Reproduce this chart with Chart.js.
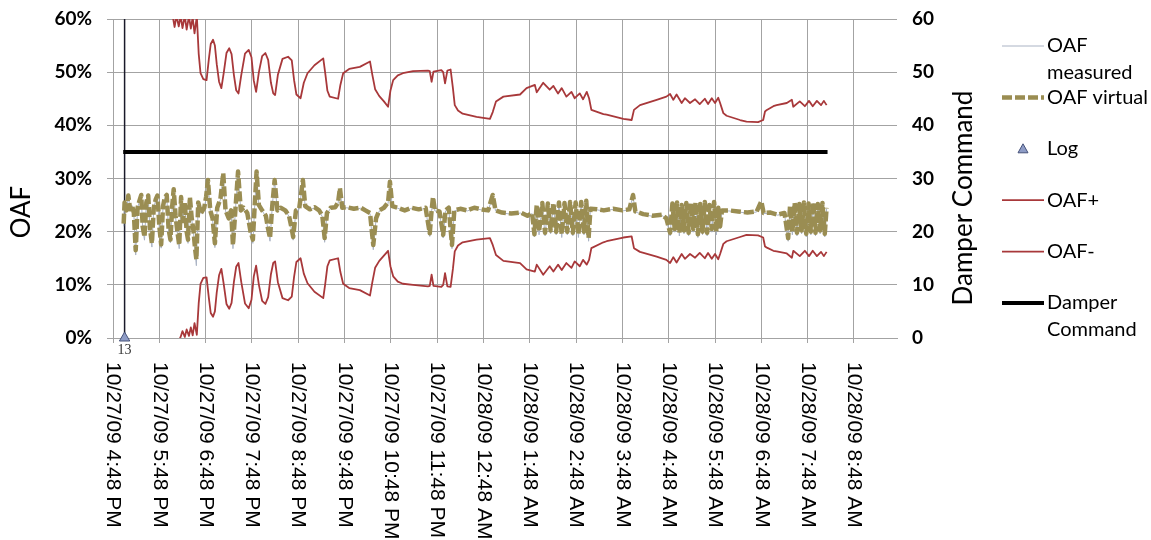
<!DOCTYPE html>
<html>
<head>
<meta charset="utf-8">
<script src="https://cdn.jsdelivr.net/npm/chart.js@4.4.0/dist/chart.umd.min.js"></script>
<style>
    html, body { margin: 0; background: #fff; }
    #wrap { width: 1151px; height: 540px; }
</style>
</head>
<body>
<div id="wrap"><canvas id="oafChart" width="1151" height="540"></canvas></div>
<script>
// hours after 10/27/09 4:48 PM
var tickHours = [0, 1, 2, 3, 4, 5, 6, 7, 8, 9, 10, 11, 12, 13, 14, 15, 16];
var tickLabels = ["10/27/09 4:48 PM", "10/27/09 5:48 PM", "10/27/09 6:48 PM", "10/27/09 7:48 PM",
    "10/27/09 8:48 PM", "10/27/09 9:48 PM", "10/27/09 10:48 PM", "10/27/09 11:48 PM",
    "10/28/09 12:48 AM", "10/28/09 1:48 AM", "10/28/09 2:48 AM", "10/28/09 3:48 AM",
    "10/28/09 4:48 AM", "10/28/09 5:48 AM", "10/28/09 6:48 AM", "10/28/09 7:48 AM", "10/28/09 8:48 AM"];
var legendNames = [["OAF", "measured"], ["OAF virtual"], ["Log"], ["OAF+"], ["OAF-"], ["Damper", "Command"]];

// OAF+ / OAF- envelope, sampled at the same times
var envHours = [1.29, 1.33, 1.37, 1.42, 1.46, 1.50, 1.55, 1.59, 1.64, 1.68, 1.72, 1.76, 1.81, 1.85, 1.89, 1.95,
    2.02, 2.07, 2.11, 2.16, 2.20, 2.24, 2.29, 2.34, 2.39, 2.45, 2.51, 2.56, 2.61, 2.66, 2.71, 2.77, 2.85, 2.93,
    2.99, 3.04, 3.09, 3.15, 3.22, 3.29, 3.35, 3.41, 3.46, 3.50, 3.56, 3.66, 3.78, 3.86, 3.91, 3.96, 4.05, 4.12,
    4.20, 4.35, 4.54, 4.58, 4.63, 4.68, 4.86, 4.91, 4.97, 5.10, 5.33, 5.55, 5.60, 5.66, 5.75, 5.85, 5.94, 5.99,
    6.05, 6.15, 6.26, 6.48, 6.80, 6.84, 6.88, 6.92, 7.09, 7.13, 7.17, 7.22, 7.29, 7.34, 7.38, 7.45, 7.55, 7.85,
    8.14, 8.20, 8.27, 8.43, 8.79, 8.93, 9.11, 9.15, 9.29, 9.43, 9.51, 9.61, 9.69, 9.79, 9.90, 9.97, 10.08,
    10.15, 10.23, 10.28, 10.33, 10.59, 10.66, 11.02, 11.20, 11.25, 11.38, 11.74, 11.95, 12.03, 12.10, 12.17,
    12.28, 12.35, 12.46, 12.57, 12.67, 12.78, 12.85, 12.93, 13.00, 13.07, 13.11, 13.18, 13.25, 13.54, 13.68,
    13.93, 14.04, 14.08, 14.12, 14.26, 14.33, 14.55, 14.66, 14.69, 14.83, 14.94, 15.03, 15.11, 15.20, 15.29,
    15.35, 15.41];
var plusValues = [60.5, 58.5, 60.6, 58.6, 60.6, 58.3, 60.6, 58.0, 60.5, 58.2, 60.3, 57.3, 60.5, 53.5, 49.8, 48.7,
    48.5, 52.5, 55.3, 56.1, 55.0, 51.5, 48.2, 47.0, 49.8, 53.6, 54.5, 53.4, 49.5, 46.6, 46.0, 49.5, 53.5, 54.2,
    52.8, 48.4, 46.3, 50.0, 53.0, 53.6, 52.3, 48.0, 46.0, 45.7, 49.5, 52.5, 52.9, 52.2, 48.5, 45.8, 45.1, 48.0,
    49.8, 51.3, 52.6, 50.0, 46.5, 45.4, 45.0, 47.6, 49.8, 50.6, 51.0, 52.0, 49.5, 46.8, 45.5, 44.5, 43.5, 46.5,
    48.5, 49.4, 49.8, 50.2, 50.3, 50.2, 48.2, 50.1, 50.4, 50.0, 47.9, 50.3, 50.5, 47.0, 43.8, 42.8, 42.2, 41.6,
    41.2, 42.5, 44.5, 45.4, 45.8, 47.0, 47.6, 46.2, 48.0, 46.7, 47.4, 46.0, 47.0, 45.4, 46.3, 45.1, 46.0,
    44.9, 46.3, 45.1, 42.9, 42.1, 42.0, 41.2, 41.0, 42.9, 43.8, 44.8, 45.4, 45.9, 44.8, 45.8,
    44.2, 45.1, 44.2, 44.9, 44.0, 45.0, 44.0, 45.1, 44.2, 45.2, 44.2, 42.3, 41.8, 41.0, 40.7,
    40.6, 41.0, 42.6, 42.9, 43.6, 43.8, 44.2, 44.8, 43.5, 44.5, 43.6, 44.6, 43.6, 44.6, 43.8,
    44.6, 43.8];
var minusValues = [-0.5, -0.8, -0.6, -0.5, 0.2, 1.3, 0.2, 1.6, 0.4, 2.0, 0.5, 2.8, 0.6, 6.5, 10.2, 11.3,
    11.4, 7.5, 4.7, 4.0, 5.0, 8.6, 11.8, 13.0, 10.2, 6.4, 5.5, 6.6, 10.5, 13.4, 14.1, 10.5, 6.5, 5.6,
    7.2, 11.6, 13.6, 10.0, 7.0, 6.4, 7.7, 12.0, 14.1, 14.4, 10.5, 7.5, 7.1, 7.8, 11.5, 14.3, 15.0, 12.1,
    10.3, 8.7, 7.5, 10.0, 13.5, 14.6, 15.0, 12.4, 10.2, 9.4, 9.0, 8.0, 10.5, 13.2, 14.5, 15.5, 16.4, 13.5,
    11.6, 10.6, 10.2, 10.0, 9.7, 9.8, 11.9, 9.8, 9.6, 10.0, 12.2, 9.7, 9.6, 13.0, 16.3, 17.4, 18.0, 18.5,
    18.8, 17.5, 15.6, 14.5, 14.1, 12.9, 12.5, 13.8, 11.9, 13.5, 12.5, 13.8, 12.8, 14.1, 13.2, 14.4, 13.5,
    14.7, 13.8, 14.7, 16.9, 18.0, 18.2, 18.9, 19.1, 16.9, 16.2, 15.3, 14.7, 14.1, 15.2, 14.2,
    15.8, 14.9, 15.8, 15.1, 16.0, 15.0, 16.0, 14.9, 15.8, 14.8, 15.8, 17.7, 18.2, 19.0, 19.4,
    19.3, 18.9, 17.2, 17.0, 16.4, 16.3, 15.9, 15.1, 16.4, 15.4, 16.4, 15.4, 16.4, 15.4, 16.2,
    15.4, 16.2];

var virtualHours = [0.23, 0.25, 0.29, 0.33, 0.37, 0.41, 0.45, 0.49, 0.53, 0.57, 0.61, 0.64, 0.68, 0.72, 0.76,
    0.80, 0.84, 0.88, 0.92, 0.96, 1.00, 1.04, 1.08, 1.12, 1.16, 1.20, 1.24, 1.28, 1.31, 1.35, 1.39, 1.43, 1.47,
    1.51, 1.55, 1.59, 1.62, 1.66, 1.70, 1.74, 1.77, 1.80, 1.84, 1.90, 1.97, 2.01, 2.05, 2.10, 2.15, 2.20, 2.25,
    2.32, 2.38, 2.43, 2.50, 2.55, 2.59, 2.65, 2.70, 2.76, 2.82, 2.90, 2.97, 3.02, 3.06, 3.10, 3.15, 3.22, 3.30,
    3.35, 3.39, 3.44, 3.49, 3.55, 3.62, 3.72, 3.80, 3.86, 3.89, 3.95, 4.02, 4.10, 4.15, 4.25, 4.35, 4.45, 4.52,
    4.57, 4.62, 4.70, 4.80, 4.86, 4.90, 4.95, 5.05, 5.20, 5.35, 5.45, 5.55, 5.62, 5.68, 5.75, 5.85, 5.94, 5.98,
    6.03, 6.15, 6.30, 6.45, 6.60, 6.75, 6.84, 6.88, 6.91, 6.95, 7.05, 7.13, 7.18, 7.25, 7.32, 7.37, 7.50, 7.65,
    7.80, 7.95, 8.10, 8.20, 8.26, 8.40, 8.60, 8.80, 8.95, 9.05, 9.10, 9.15, 9.20, 9.27, 9.33, 9.39, 9.45, 9.51,
    9.57, 9.63, 9.69, 9.75, 9.81, 9.87, 9.93, 9.99, 10.05, 10.11, 10.17, 10.22, 10.27, 10.31, 10.45, 10.60,
    10.80, 11.00, 11.15, 11.23, 11.28, 11.45, 11.65, 11.85, 11.95, 12.03, 12.08, 12.13, 12.18, 12.23, 12.28,
    12.33, 12.38, 12.43, 12.48, 12.53, 12.58, 12.63, 12.68, 12.73, 12.78, 12.83, 12.88, 12.93, 12.98, 13.03,
    13.07, 13.11, 13.15, 13.30, 13.50, 13.70, 13.90, 14.00, 14.05, 14.20, 14.35, 14.50, 14.58, 14.62, 14.67,
    14.72, 14.77, 14.82, 14.87, 14.92, 14.97, 15.02, 15.07, 15.12, 15.17, 15.22, 15.27, 15.32, 15.37, 15.41];
var virtualValues = [21.5, 25.5, 24.0, 26.8, 24.2, 25.0, 23.5, 16.5, 24.5, 25.8, 26.9, 21.0, 19.0, 25.5, 26.8,
    20.5, 17.8, 24.5, 26.0, 26.8, 21.0, 17.6, 24.8, 26.5, 26.9, 20.5, 18.5, 25.0, 28.0, 23.0, 20.0, 17.5, 26.5,
    22.0, 25.5, 20.0, 18.5, 26.5, 22.5, 20.0, 17.0, 14.8, 25.5, 23.5, 24.5, 26.5, 29.7, 24.0, 22.5, 17.8, 24.5,
    26.2, 31.0, 24.0, 22.5, 24.0, 17.5, 25.0, 31.3, 24.0, 24.5, 23.5, 20.0, 18.5, 25.0, 31.3, 25.0, 24.0, 23.0,
    20.5, 18.8, 25.0, 29.7, 24.0, 24.5, 24.0, 23.0, 20.5, 19.0, 24.0, 24.3, 29.7, 24.8, 24.2, 24.6, 24.0, 23.0,
    18.8, 23.5, 24.5, 24.6, 25.5, 28.2, 24.5, 24.6, 24.3, 24.5, 24.0, 23.5, 17.5, 22.5, 24.0, 24.5, 25.5, 29.4,
    24.8, 24.5, 24.0, 24.5, 24.2, 24.5, 19.7, 24.0, 26.5, 24.0, 23.8, 19.4, 24.0, 24.5, 17.5, 24.0, 24.3, 24.0,
    24.5, 24.2, 24.0, 26.9, 24.0, 23.6, 23.4, 23.6, 23.0, 23.5, 19.5, 25.0, 20.0, 25.4, 19.8, 25.3, 20.2, 25.4,
    20.0, 25.5, 19.5, 25.4, 20.0, 25.6, 19.8, 25.5, 19.5, 25.6, 20.0, 25.8, 18.8, 24.3, 24.2, 24.0,
    24.3, 24.0, 24.2, 26.9, 23.8, 23.3, 23.0, 23.2, 22.5, 19.8, 25.3, 20.5, 25.5, 19.8, 25.0,
    20.2, 25.4, 19.8, 25.3, 20.5, 25.5, 19.5, 25.2, 20.0, 25.6, 19.8, 25.0, 20.5, 25.6, 20.0,
    24.5, 21.0, 24.0, 24.0, 23.8, 23.6, 23.8, 25.7, 23.5, 23.6, 23.2, 23.5, 18.8, 24.8, 20.0,
    25.4, 19.8, 25.2, 20.2, 25.5, 19.6, 25.3, 20.0, 25.5, 19.8, 25.2, 20.2, 25.4, 19.6, 24.5];
var measuredValues = [21.0, 25.3, 24.1, 26.6, 24.3, 24.9, 23.4, 15.6, 24.4, 25.7, 26.7, 20.6, 18.4, 25.4, 26.6,
    20.1, 17.1, 24.4, 25.9, 26.6, 20.6, 16.9, 24.7, 26.3, 26.7, 20.1, 17.9, 24.9, 27.8, 22.8, 19.6, 16.8, 26.3,
    21.7, 25.3, 19.6, 17.8, 26.3, 22.3, 19.6, 16.3, 13.6, 25.3, 23.4, 24.4, 26.3, 29.5, 23.9, 22.3, 17.0, 24.4,
    26.0, 30.8, 23.9, 22.3, 23.9, 16.8, 24.9, 31.1, 23.9, 24.4, 23.4, 19.6, 17.8, 24.9, 31.1, 24.9, 23.9, 22.9,
    20.1, 18.2, 24.9, 29.5, 23.9, 24.4, 23.9, 22.9, 20.1, 18.4, 23.9, 24.2, 29.5, 24.7, 24.1, 24.5, 23.9, 22.8,
    18.0, 23.4, 24.4, 24.5, 25.3, 28.0, 24.4, 24.5, 24.2, 24.4, 23.9, 23.4, 16.6, 22.3, 23.9, 24.4, 25.3, 29.2,
    24.7, 24.4, 23.9, 24.4, 24.1, 24.4, 19.1, 23.9, 26.3, 23.9, 23.7, 18.8, 23.9, 24.4, 16.8, 23.9, 24.2, 23.9,
    24.4, 24.1, 23.9, 26.7, 23.9, 23.5, 23.3, 23.5, 22.9, 23.4, 19.0, 24.8, 19.4, 25.2, 19.2, 25.1, 19.6, 25.2,
    19.4, 25.3, 18.9, 25.2, 19.4, 25.4, 19.2, 25.3, 18.9, 25.4, 19.4, 25.6, 18.2, 24.2, 24.1, 23.9,
    24.2, 23.9, 24.1, 26.7, 23.7, 23.2, 22.9, 23.1, 22.3, 19.2, 25.1, 19.9, 25.3, 19.2, 24.8,
    19.6, 25.2, 19.2, 25.1, 19.9, 25.3, 18.9, 25.0, 19.4, 25.4, 19.2, 24.8, 19.9, 25.4, 19.4,
    24.3, 20.5, 23.9, 23.9, 23.7, 23.5, 23.7, 25.5, 23.4, 23.5, 23.1, 23.4, 18.2, 24.6, 19.4,
    25.2, 19.2, 25.0, 19.6, 25.3, 19.0, 25.1, 19.4, 25.3, 19.2, 25.0, 19.6, 25.2, 19.0, 24.3];

var damperHours = [0.22, 15.43];
var damperValues = [35, 35];
var logHours = [0.25];
var logValues = [0];
var logLineValues = [0, 60];

var OLIVE = "#9a8d52";
var RED = "#a8383a";
var TICK_FONT = 'bold 19px Lato, "Open Sans", sans-serif';

function pts(hours, values) {
    return values.map(function (v, i) { return {x: hours.length === 1 ? hours[0] : hours[i], y: v}; });
}

var overlay = {
    id: "overlay",
    afterDraw: function (chart) {
        var ctx = chart.ctx, xs = chart.scales.x, area = chart.chartArea;
        var yl = chart.scales.y, yr = chart.scales.y2;
        ctx.save();
        ctx.fillStyle = "#000";
        // value labels on both sides
        ctx.font = TICK_FONT;
        ctx.textBaseline = "middle";
        yl.ticks.forEach(function (t) {
            ctx.textAlign = "right";
            ctx.fillText(t.value + "%", area.left - 15, yl.getPixelForValue(t.value));
        });
        yr.ticks.forEach(function (t) {
            ctx.textAlign = "left";
            ctx.fillText(String(t.value), area.right + 15, yr.getPixelForValue(t.value));
        });
        // rotated date labels, read top to bottom
        ctx.font = '21px "Liberation Sans", Arial, sans-serif';
        ctx.textAlign = "left";
        tickHours.forEach(function (h, i) {
            ctx.save();
            ctx.translate(xs.getPixelForValue(h), area.bottom + 24);
            ctx.rotate(Math.PI / 2);
            ctx.fillText(tickLabels[i], 0, 0);
            ctx.restore();
        });
        // axis titles
        ctx.font = '26px Lato, "Open Sans", sans-serif';
        ctx.textAlign = "center";
        ctx.save();
        ctx.translate(22, 212);
        ctx.rotate(-Math.PI / 2);
        ctx.fillText("OAF", 0, 0);
        ctx.restore();
        ctx.save();
        ctx.translate(964, 198);
        ctx.rotate(-Math.PI / 2);
        ctx.fillText("Damper Command", 0, 0);
        ctx.restore();
        // log point label
        ctx.font = '14px "Liberation Serif", serif';
        ctx.fillStyle = "#333";
        ctx.fillText("13", xs.getPixelForValue(logHours[0]), area.bottom + 12);
        // legend
        var order = [1, 0, 2, 3, 4, 5];
        ctx.font = '20px Lato, "Open Sans", sans-serif';
        ctx.textAlign = "left";
        order.forEach(function (dsIndex, row) {
            var ds = chart.data.datasets[dsIndex];
            var y = 46 + row * 51.4;
            if (ds.pointStyle === "triangle") {
                ctx.beginPath();
                ctx.moveTo(1023, y - 5);
                ctx.lineTo(1028, y + 4);
                ctx.lineTo(1018, y + 4);
                ctx.closePath();
                ctx.fillStyle = ds.backgroundColor;
                ctx.fill();
                ctx.strokeStyle = ds.borderColor;
                ctx.lineWidth = 1;
                ctx.stroke();
            } else {
                ctx.beginPath();
                ctx.setLineDash(ds.borderDash || []);
                ctx.strokeStyle = ds.borderColor;
                ctx.lineWidth = ds.borderWidth;
                ctx.moveTo(1002, y);
                ctx.lineTo(1044, y);
                ctx.stroke();
                ctx.setLineDash([]);
            }
            ctx.fillStyle = "#000";
            legendNames[row].forEach(function (line, k) {
                ctx.fillText(line, 1047, y + k * 27);
            });
        });
        ctx.restore();
    }
};

var ctx = document.getElementById("oafChart").getContext("2d");
new Chart(ctx, {
    type: "line",
    data: {
        datasets: [
            {label: "OAF virtual", data: pts(virtualHours, virtualValues), borderColor: OLIVE,
                borderWidth: 4.5, borderDash: [10, 3], borderJoinStyle: "round", pointRadius: 0, yAxisID: "y"},
            {label: "OAF measured", data: pts(virtualHours, measuredValues), borderColor: "#aab3c4",
                borderWidth: 1, pointRadius: 0, yAxisID: "y"},
            {label: "Log", data: pts(logHours, logValues), showLine: false, pointStyle: "triangle",
                pointRadius: 6, backgroundColor: "#8e9cc6", borderColor: "#46527a", borderWidth: 1,
                clip: false, yAxisID: "y"},
            {label: "OAF+", data: pts(envHours, plusValues), borderColor: RED, borderWidth: 1.8,
                borderJoinStyle: "round", pointRadius: 0, yAxisID: "y"},
            {label: "OAF-", data: pts(envHours, minusValues), borderColor: RED, borderWidth: 1.8,
                borderJoinStyle: "round", pointRadius: 0, yAxisID: "y"},
            {label: "Damper Command", data: pts(damperHours, damperValues), borderColor: "#000",
                borderWidth: 4, pointRadius: 0, yAxisID: "y2"},
            {label: "Log line", data: pts(logHours, logLineValues), borderColor: "#1a1a2a",
                borderWidth: 1.5, pointRadius: 0, yAxisID: "y"}
        ]
    },
    options: {
        responsive: false,
        animation: false,
        devicePixelRatio: 1,
        layout: {padding: {top: 19, left: 0, right: 0, bottom: 0}},
        elements: {line: {tension: 0}},
        plugins: {legend: {display: false}, tooltip: {enabled: false}},
        scales: {
            x: {
                type: "linear", min: -0.13, max: 16.93,
                afterBuildTicks: function (scale) {
                    scale.ticks = tickHours.map(function (h) { return {value: h}; });
                },
                afterFit: function (scale) { scale.height = 202; },
                ticks: {display: false},
                grid: {color: "#a3a3a3", tickLength: 5, drawTicks: true},
                border: {color: "#a3a3a3"}
            },
            y: {
                position: "left", min: 0, max: 60,
                afterFit: function (scale) { scale.width = 107; },
                ticks: {stepSize: 10, display: false},
                grid: {color: "#a3a3a3", drawTicks: false},
                border: {display: false}
            },
            y2: {
                position: "right", min: 0, max: 60,
                afterFit: function (scale) { scale.width = 254; },
                ticks: {stepSize: 10, display: false},
                grid: {drawOnChartArea: false, drawTicks: false},
                border: {display: false}
            }
        }
    },
    plugins: [overlay]
});
</script>
</body>
</html>
